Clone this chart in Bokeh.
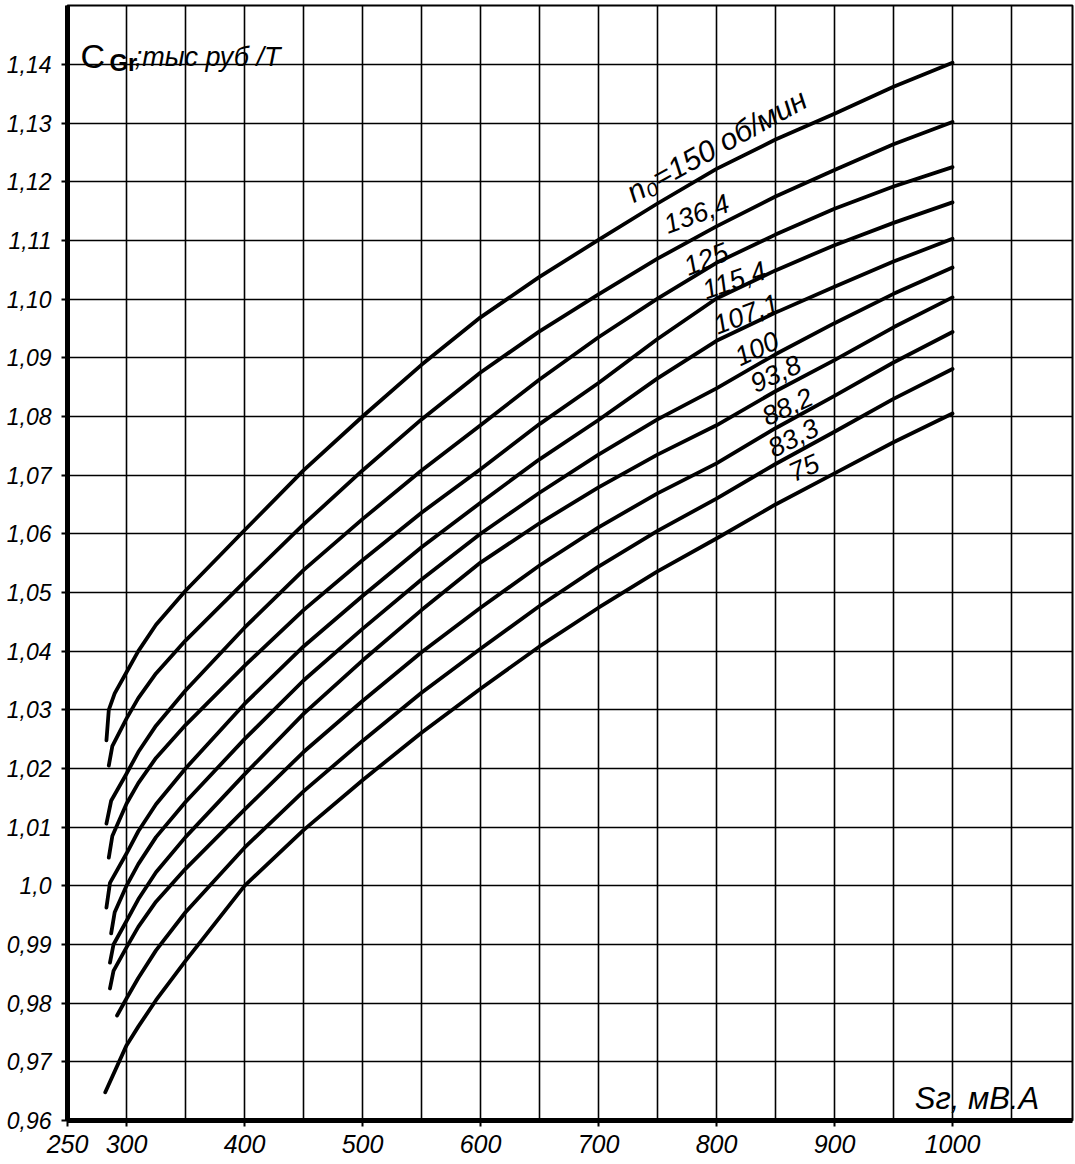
import math
from bokeh.plotting import figure
from bokeh.models import FixedTicker, Range1d
from bokeh.core.properties import value
from bokeh.embed import file_html
from bokeh.resources import INLINE

# ---------------- data ----------------
common_x = [300, 310, 325, 350, 400, 450, 500, 550, 600, 650, 700, 750, 800, 850, 900, 950, 1000]

x_150 = [283, 285, 290] + common_x
y_150 = [1.0248, 1.0300, 1.0328, 1.0364, 1.0400, 1.0445, 1.0503, 1.0606, 1.0708, 1.0800, 1.0888,
         1.0969, 1.1038, 1.1101, 1.1163, 1.1222, 1.1272, 1.1316, 1.1362, 1.1403]

x_136 = [285, 288] + common_x
y_136 = [1.0205, 1.0238, 1.0285, 1.0320, 1.0362, 1.0418, 1.0518, 1.0616, 1.0708, 1.0795, 1.0875,
         1.0945, 1.1008, 1.1069, 1.1124, 1.1175, 1.1220, 1.1264, 1.1302]

x_125 = [283, 287] + common_x
y_125 = [1.0106, 1.0145, 1.0191, 1.0228, 1.0273, 1.0333, 1.0440, 1.0538, 1.0625, 1.0708, 1.0785,
         1.0863, 1.0935, 1.1001, 1.1062, 1.1110, 1.1154, 1.1192, 1.1225]

x_115 = [285, 288] + common_x
y_115 = [1.0048, 1.0085, 1.0140, 1.0175, 1.0218, 1.0274, 1.0375, 1.0470, 1.0555, 1.0636, 1.0710,
         1.0787, 1.0857, 1.0932, 1.1001, 1.1049, 1.1092, 1.1130, 1.1165]

x_107 = [283, 286] + common_x
y_107 = [0.9963, 1.0005, 1.0055, 1.0093, 1.0139, 1.0200, 1.0310, 1.0408, 1.0494, 1.0577, 1.0653,
         1.0727, 1.0794, 1.0865, 1.0929, 1.0977, 1.1021, 1.1064, 1.1103]

x_100 = [287, 290] + common_x
y_100 = [0.9919, 0.9955, 1.0000, 1.0037, 1.0083, 1.0143, 1.0250, 1.0350, 1.0438, 1.0522, 1.0600,
         1.0670, 1.0735, 1.0795, 1.0848, 1.0906, 1.0959, 1.1009, 1.1054]

x_94 = [286, 289] + common_x
y_94 = [0.9869, 0.9900, 0.9940, 0.9977, 1.0023, 1.0083, 1.0190, 1.0293, 1.0384, 1.0470, 1.0551,
        1.0618, 1.0679, 1.0735, 1.0785, 1.0843, 1.0896, 1.0952, 1.1003]

x_88 = [286, 289] + common_x
y_88 = [0.9825, 0.9855, 0.9895, 0.9930, 0.9973, 1.0029, 1.0130, 1.0228, 1.0315, 1.0398, 1.0474,
        1.0546, 1.0611, 1.0669, 1.0720, 1.0780, 1.0835, 1.0892, 1.0944]

x_83 = [292] + common_x
y_83 = [0.9779, 0.9808, 0.9843, 0.9890, 0.9955, 1.0065, 1.0161, 1.0247, 1.0329, 1.0404, 1.0477,
        1.0544, 1.0605, 1.0660, 1.0719, 1.0774, 1.0830, 1.0881]

x_75 = [282] + common_x
y_75 = [0.9648, 0.9728, 0.9760, 0.9805, 0.9872, 1.0000, 1.0095, 1.0180, 1.0261, 1.0336, 1.0408,
        1.0474, 1.0536, 1.0592, 1.0650, 1.0703, 1.0756, 1.0805]

curve_labels = ["n\u2080=150 об/мин", "136,4", "125", "115,4", "107,1", "100", "93,8", "88,2", "83,3", "75"]

x_tick_values = [250, 300, 400, 500, 600, 700, 800, 900, 1000]
x_tick_labels = ["250", "300", "400", "500", "600", "700", "800", "900", "1000"]
y_tick_values = [0.96, 0.97, 0.98, 0.99, 1.0, 1.01, 1.02, 1.03, 1.04, 1.05, 1.06,
                 1.07, 1.08, 1.09, 1.10, 1.11, 1.12, 1.13, 1.14]
y_tick_labels = ["0,96", "0,97", "0,98", "0,99", "1,0", "1,01", "1,02", "1,03", "1,04", "1,05", "1,06",
                 "1,07", "1,08", "1,09", "1,10", "1,11", "1,12", "1,13", "1,14"]

y_title = ["C", "Gr", ";тыс руб /Т"]
x_title = "Sг,  мВ.А"

# ---------------- layout / styles ----------------
label_x = [800, 783, 791, 815, 825, 834, 850, 860, 865, 874]
label_y = [1.1262, 1.1146, 1.1069, 1.1033, 1.0975, 1.0916, 1.0873, 1.0817, 1.0764, 1.0713]
label_deg = [29, 20, 22, 19, 21, 25, 25, 25, 27, 24]
label_size = ["30px"] + ["27px"] * 9

FONT = "Liberation Sans"

p = figure(width=1075, height=1164,
           x_range=Range1d(250, 1101.7), y_range=Range1d(0.96, 1.15005),
           output_backend="svg", toolbar_location=None,
           min_border_left=67, min_border_right=3, min_border_top=5, min_border_bottom=44)

p.background_fill_color = "white"
p.border_fill_color = "white"
p.outline_line_color = "black"
p.outline_line_width = 2

# grid
p.xgrid.ticker = FixedTicker(ticks=list(range(300, 1051, 50)))
p.ygrid.ticker = FixedTicker(ticks=[round(0.97 + 0.01 * i, 2) for i in range(18)])
for g in (p.xgrid, p.ygrid):
    g.grid_line_color = "black"
    g.grid_line_width = 1.6
    g.grid_line_alpha = 1.0

# axes
p.xaxis.ticker = FixedTicker(ticks=x_tick_values)
p.xaxis.major_label_overrides = {v: s for v, s in zip(x_tick_values, x_tick_labels)}
p.yaxis.ticker = FixedTicker(ticks=y_tick_values)
p.yaxis.major_label_overrides = {v: s for v, s in zip(y_tick_values, y_tick_labels)}
for ax in (p.xaxis, p.yaxis):
    ax.axis_line_width = 5
    ax.axis_line_color = "black"
    ax.major_tick_in = 0
    ax.major_tick_out = 6
    ax.major_tick_line_width = 2
    ax.major_tick_line_color = "black"
    ax.minor_tick_line_color = None
    ax.major_label_text_font = FONT
    ax.major_label_text_font_style = "italic"
    ax.major_label_text_color = "black"
p.xaxis.major_label_text_font_size = "25px"
p.xaxis.major_label_standoff = 8
p.yaxis.major_label_text_font_size = "23px"
p.yaxis.major_label_standoff = 10

# curves
for xs, ys in [(x_150, y_150), (x_136, y_136), (x_125, y_125), (x_115, y_115), (x_107, y_107),
               (x_100, y_100), (x_94, y_94), (x_88, y_88), (x_83, y_83), (x_75, y_75)]:
    assert len(xs) == len(ys)
    p.line(xs, ys, line_color="black", line_width=3.8, line_cap="round", line_join="round")

# curve labels
p.text(x=label_x, y=label_y, text=curve_labels,
       angle=[math.radians(a) for a in label_deg],
       text_font=value(FONT), text_font_style="italic", text_font_size=label_size,
       text_align="center", text_baseline="middle", text_color="black")

# y-axis title (top-left)
p.text(x=[261], y=[1.1415], text=[y_title[0]], text_font=value(FONT), text_font_style="normal",
       text_font_size="34px", text_align="left", text_baseline="alphabetic", text_color="black")
p.text(x=[285.5], y=[1.1403], text=[y_title[1]], text_font=value(FONT), text_font_style="bold",
       text_font_size="24px", text_align="left", text_baseline="alphabetic", text_color="black")
p.text(x=[307], y=[1.1412], text=[y_title[2]], text_font=value(FONT), text_font_style="italic",
       text_font_size="27px", text_align="left", text_baseline="alphabetic", text_color="black")

# x-axis title (bottom-right)
p.text(x=[968], y=[0.9638], text=[x_title], text_font=value(FONT), text_font_style="italic",
       text_font_size="31px", text_align="left", text_baseline="alphabetic", text_color="black")

open("out.html", "w").write(file_html(p, INLINE))
